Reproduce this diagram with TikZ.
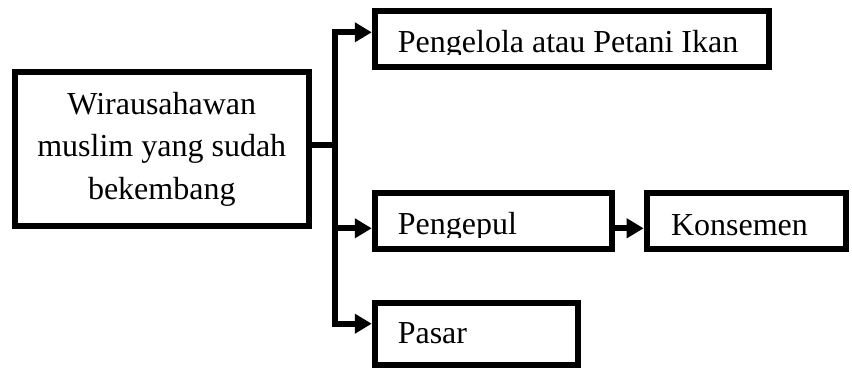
\documentclass[tikz,border=0pt]{standalone}
\usepackage{fontspec}
\setmainfont{Liberation Serif}
\usetikzlibrary{arrows.meta}
\newcommand{\lefttext}[2]{\makebox[#1][l]{#2}}
\begin{document}
\begin{tikzpicture}[x=1pt,y=-1pt,
  box/.style={draw, line width=6pt, font=\fontsize{32}{42.5}\selectfont, inner ysep=0pt},
  lbox/.style={box, text depth=0pt},
  txt/.style={font=\fontsize{32}{42.5}\selectfont, inner sep=0pt, anchor=base west},
  conn/.style={line width=6pt, miter limit=10},
  arr/.style={conn, -{Triangle[length=17pt,width=19pt]}},
  darr/.style={conn, {Triangle[length=17pt,width=19pt]}-{Triangle[length=17pt,width=19pt]}}
]
\useasboundingbox (0,0) rectangle (852,368);
\node[box, align=center, minimum width=294.5pt, minimum height=154.3pt, inner xsep=0pt] (main) at (161.75,148.9) {Wirausahawan\\muslim yang sudah\\bekembang};
% boxes whose descenders are clipped
\node[box, minimum width=394.3pt, minimum height=56.3pt] (petani) at (571.9,38.9) {};
\begin{scope}
  \clip (petani.north west) rectangle (petani.east |- 0,54.8);
  \node[txt] (petanitxt) at (397.7,52.3) {Pengelola atau Petani Ikan};
\end{scope}
\node[box, minimum width=237.3pt, minimum height=56pt] (pengepul) at (493.4,221.3) {};
\begin{scope}
  \clip (pengepul.north west) rectangle (pengepul.east |- 0,237.2);
  \node[txt] (pengepultxt) at (397.7,234.6) {Pengepul};
\end{scope}
\node[lbox, minimum width=199.7pt, minimum height=56pt, inner xsep=24.4pt, text height=27.4pt] (konsemen) at (746.5,221.3) {\lefttext{150.9pt}{Konsemen}};
\node[lbox, minimum width=203.3pt, minimum height=61.7pt, inner xsep=23pt, text height=18.2pt] (pasar) at (476.4,334.2) {\lefttext{157.3pt}{Pasar}};
\coordinate (j) at (334.7,144.5);
\coordinate (ttop) at (334.7,32.3);
\coordinate (tbot) at (334.7,323.7);
\coordinate (tmid) at (331.7,228.3);
\draw[conn] (main.east |- j) -- (j);
\draw[darr] (ttop -| petani.west) -- (ttop) -- (tbot) -- (tbot -| pasar.west);
\draw[arr] (tmid) -- (tmid -| pengepul.west);
\draw[arr] (pengepul.east |- tmid) -- (konsemen.west |- tmid);
\end{tikzpicture}
\end{document}
